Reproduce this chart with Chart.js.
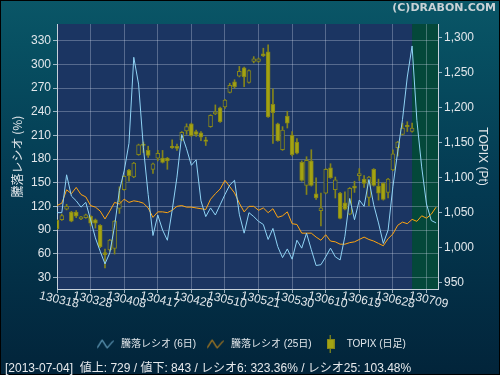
<!DOCTYPE html>
<html>
<head>
<meta charset="utf-8">
<script src="https://cdn.jsdelivr.net/npm/chart.js@4.4.0/dist/chart.umd.min.js"></script>
<style>
  html, body { margin: 0; padding: 0; background: #03263a; }
  #wrap { position: relative; width: 500px; height: 375px; overflow: hidden; }
  #chart { position: absolute; left: 0; top: 0; }
  .copy { position: absolute; right: 4px; top: 1px; font: bold 11px "DejaVu Sans", sans-serif; color: #c9d2d6; }
  .status { position: absolute; left: 5px; top: 358px; font: 12px "Liberation Sans", "Noto Sans CJK JP", sans-serif; color: #e6e9ec; white-space: pre; }
</style>
</head>
<body>
<div id="wrap">
  <canvas id="chart" width="500" height="375"></canvas>
  <div class="copy">(C)DRABON.COM</div>
  <div class="status">[2013-07-04]  値上: 729 / 値下: 843 / レシオ6: 323.36% / レシオ25: 103.48%</div>
</div>
<script>
// trading days, yymmdd
const dates = [
  "130318", "130319", "130321", "130322", "130325", "130326", "130327", "130328", "130329",
  "130401", "130402", "130403", "130404", "130405", "130408", "130409", "130410", "130411", "130412",
  "130415", "130416", "130417", "130418", "130419", "130422", "130423", "130424", "130425", "130426", "130430",
  "130501", "130502", "130507", "130508", "130509", "130510", "130513", "130514", "130515", "130516", "130517",
  "130520", "130521", "130522", "130523", "130524", "130527", "130528", "130529", "130530", "130531",
  "130603", "130604", "130605", "130606", "130607", "130610", "130611", "130612", "130613", "130614",
  "130617", "130618", "130619", "130620", "130621", "130624", "130625", "130626", "130627", "130628",
  "130701", "130702", "130703", "130704", "130705", "130708", "130709", "130710", "130711",
];

const ratio6 = [
  112, 112, 160, 133, 127, 119, 125, 103, 80, 63,
  47, 61, 95, 140, 165, 200, 309, 275, 195, 135,
  83, 109, 90, 77, 115, 157, 211, 193, 172, 179,
  127, 107, 118, 109, 122, 135, 147, 153, 110, 86,
  112, 107, 101, 97, 78, 92, 69, 55, 66, 53,
  77, 67, 86, 65, 45, 46, 56, 67, 56, 52,
  82, 130, 103, 128, 120, 154, 122, 99, 73, 90,
  145, 189, 230, 284, 323.36, 229, 170, 123, 102, 99,
];

const ratio25 = [
  121, 124, 141, 136, 144, 135, 132, 121, 119, 114,
  104, 114, 125, 123, 129, 125, 127, 126, 124, 118,
  106, 113, 113, 112, 115, 120, 121, 119, 119, 118,
  117, 116, 129, 136, 142, 153, 145, 137, 124, 113,
  120, 120, 115, 118, 112, 117, 106, 108, 113, 98,
  97, 86, 86, 86, 81, 77, 84, 76, 75, 72,
  72, 74, 75, 78, 81, 78, 76, 73, 70, 79,
  85, 96, 100, 98, 103.48, 101, 108, 105, 110, 119,
];

// TOPIX daily candles (up to 2013-07-04)
const topixOpen = [
  1039, 1040, 1055, 1051, 1051, 1041, 1043, 1045, 1040, 1032,
  993, 997, 999, 1056, 1083, 1111, 1101, 1133, 1148, 1139,
  1112, 1128, 1128, 1128, 1145, 1145, 1154, 1167, 1177, 1166,
  1164, 1154, 1173, 1191, 1200, 1201, 1222, 1237, 1245, 1257,
  1236, 1266, 1266, 1277, 1280, 1205, 1177, 1140, 1188, 1161,
  1151, 1122, 1089, 1124, 1077, 1053, 1078, 1114, 1083, 1078,
  1064, 1048, 1088, 1103, 1098, 1072, 1112, 1088, 1092, 1079,
  1111, 1143, 1162, 1175, 1166,
];
const topixHigh = [
  1040, 1048, 1062, 1052, 1053, 1045, 1048, 1046, 1041, 1033,
  998, 1012, 1039, 1087, 1103, 1112, 1122, 1148, 1151, 1145,
  1121, 1139, 1139, 1129, 1154, 1148, 1166, 1177, 1178, 1168,
  1166, 1158, 1190, 1204, 1201, 1212, 1235, 1240, 1259, 1258,
  1254, 1273, 1271, 1285, 1290, 1227, 1178, 1173, 1195, 1166,
  1156, 1124, 1130, 1140, 1100, 1078, 1113, 1120, 1101, 1079,
  1080, 1086, 1095, 1113, 1103, 1102, 1113, 1098, 1093, 1099,
  1140, 1152, 1178, 1180, 1178,
];
const topixLow = [
  1026, 1039, 1054, 1037, 1043, 1040, 1042, 1031, 1028, 1000,
  971, 995, 991, 1049, 1082, 1095, 1100, 1132, 1136, 1129,
  1106, 1124, 1121, 1112, 1142, 1139, 1153, 1162, 1159, 1159,
  1153, 1146, 1172, 1190, 1179, 1199, 1221, 1228, 1244, 1230,
  1235, 1264, 1265, 1273, 1186, 1149, 1152, 1139, 1171, 1131,
  1134, 1095, 1076, 1088, 1069, 1031, 1077, 1099, 1071, 1041,
  1054, 1047, 1079, 1096, 1086, 1060, 1088, 1068, 1068, 1071,
  1110, 1131, 1161, 1166, 1165,
];
const topixClose = [
  1027, 1046, 1059, 1038, 1045, 1044, 1047, 1035, 1035, 1001,
  990, 1011, 1038, 1066, 1102, 1103, 1121, 1147, 1146, 1132,
  1120, 1135, 1122, 1124, 1143, 1142, 1165, 1173, 1160, 1162,
  1158, 1152, 1189, 1194, 1180, 1211, 1232, 1230, 1252, 1244,
  1253, 1270, 1270, 1274, 1187, 1193, 1153, 1168, 1178, 1133,
  1135, 1096, 1125, 1089, 1071, 1057, 1112, 1100, 1097, 1042,
  1055, 1085, 1085, 1106, 1092, 1101, 1089, 1078, 1069, 1098,
  1134, 1151, 1171, 1173, 1171,
];

const ratioTicks = [30, 60, 90, 120, 150, 180, 210, 240, 270, 300, 330];
const topixTicks = [950, 1000, 1050, 1100, 1150, 1200, 1250, 1300];
const dateTicks = [0, 7, 14, 21, 28, 35, 42, 49, 56, 63, 70, 77];
const highlightFrom = 74;

const gridColor = "rgba(205,215,235,0.33)";
const textColor = "#e2e7eb";
const candleLine = "#85851a";
const candleFill = "#a3a312";
const plotBg = "#1b3562";

function makeIcon(w, h, draw) {
  const c = document.createElement("canvas");
  c.width = w;
  c.height = h;
  draw(c.getContext("2d"));
  return c;
}

function zigzag(color) {
  return makeIcon(17, 11, (g) => {
    g.strokeStyle = color;
    g.lineWidth = 1;
    g.beginPath();
    g.moveTo(0.5, 9.5);
    g.lineTo(5.5, 1.5);
    g.lineTo(10.5, 9.5);
    g.lineTo(16.5, 2.5);
    g.stroke();
  });
}

const candleIcon = makeIcon(8, 18, (g) => {
  g.fillStyle = candleFill;
  g.fillRect(3, 0, 1, 18);
  g.fillRect(0.5, 4, 7, 10);
  g.strokeStyle = candleLine;
  g.strokeRect(0.5, 4.5, 7, 9);
});

const legendItems = [
  { text: "騰落レシオ (6日)", pointStyle: zigzag("#8fd3f5"), fontColor: textColor, lineWidth: 0, datasetIndex: 0 },
  { text: "騰落レシオ (25日)", pointStyle: zigzag("#ffa510"), fontColor: textColor, lineWidth: 0, datasetIndex: 1 },
  { text: "TOPIX (日足)", pointStyle: candleIcon, fontColor: textColor, lineWidth: 0, datasetIndex: 2 },
];

const backdrop = {
  id: "backdrop",
  beforeDraw(chart) {
    const { ctx, chartArea: a, scales } = chart;
    const g = ctx.createLinearGradient(0, 0, 0, chart.height);
    g.addColorStop(0, "#0a5667");
    g.addColorStop(0.12, "#075062");
    g.addColorStop(0.5, "#043a52");
    g.addColorStop(1, "#02243a");
    ctx.save();
    ctx.fillStyle = g;
    ctx.fillRect(0, 0, chart.width, chart.height);
    ctx.fillStyle = plotBg;
    ctx.fillRect(a.left, a.top, a.right - a.left, a.bottom - a.top);
    const gx = scales.x.getPixelForValue(highlightFrom);
    ctx.fillStyle = "#04483a";
    ctx.fillRect(gx, a.top, a.right - gx, a.bottom - a.top);
    ctx.restore();
  },
  afterDraw(chart) {
    const { ctx, chartArea: a, scales } = chart;
    ctx.save();
    ctx.font = '12px "Liberation Sans", sans-serif';
    ctx.fillStyle = textColor;
    ctx.textAlign = "center";
    ctx.textBaseline = "middle";
    scales.x.ticks.forEach((t) => {
      const px = scales.x.getPixelForValue(t.value);
      ctx.save();
      ctx.translate(px + 2, a.bottom + 11);
      ctx.rotate((13 * Math.PI) / 180);
      ctx.fillText(dates[t.value], 0, 0);
      ctx.restore();
    });
    ctx.strokeStyle = "#000";
    ctx.lineWidth = 1;
    ctx.strokeRect(0.5, 0.5, chart.width - 1, chart.height - 1);
    ctx.restore();
  },
};

new Chart(document.getElementById("chart"), {
  type: "line",
  data: {
    datasets: [
      {
        label: "騰落レシオ (6日)",
        data: ratio6.map((v, i) => ({ x: i, y: v })),
        borderColor: "#8fd3f5",
        borderWidth: 1,
        pointRadius: 0,
        tension: 0,
        yAxisID: "y",
        order: 0,
      },
      {
        label: "騰落レシオ (25日)",
        data: ratio25.map((v, i) => ({ x: i, y: v })),
        borderColor: "#ffa510",
        borderWidth: 1,
        pointRadius: 0,
        tension: 0,
        yAxisID: "y",
        order: 1,
      },
      {
        type: "bar",
        label: "TOPIX (日足)",
        data: topixOpen.map((o, i) => ({ x: i, y: [o, topixClose[i]] })),
        yAxisID: "yR",
        barThickness: 4,
        grouped: false,
        borderSkipped: false,
        borderWidth: 1,
        borderColor: candleLine,
        backgroundColor: (c) =>
          topixClose[c.dataIndex] > topixOpen[c.dataIndex] ? plotBg : candleFill,
        order: 2,
      },
      {
        type: "bar",
        label: "TOPIX wick",
        data: topixLow.map((l, i) => ({ x: i, y: [l, topixHigh[i]] })),
        yAxisID: "yR",
        barThickness: 1,
        grouped: false,
        borderWidth: 0,
        backgroundColor: candleLine,
        order: 3,
      },
    ],
  },
  options: {
    responsive: false,
    animation: false,
    devicePixelRatio: 1,
    layout: { padding: { top: 24, bottom: 16, left: 0, right: 0 } },
    plugins: {
      tooltip: { enabled: false },
      legend: {
        position: "bottom",
        labels: {
          usePointStyle: true,
          pointStyleWidth: 22,
          padding: 8,
          color: textColor,
          font: { size: 10, family: '"Liberation Sans", "Noto Sans CJK JP", sans-serif' },
          generateLabels: () => legendItems,
        },
      },
    },
    scales: {
      x: {
        type: "linear",
        min: 0,
        max: 79.4,
        offset: false,
        afterBuildTicks: (s) => {
          s.ticks = dateTicks.map((v) => ({ value: v }));
        },
        afterFit: (s) => {
          s.height = 375 - 16 - s.chart.legend.height - 289;
        },
        ticks: { display: false },
        grid: { color: gridColor, tickColor: "rgba(220,228,240,0.7)", tickLength: 4, offset: false },
        border: { color: "#c6d0da" },
      },
      y: {
        position: "left",
        min: 15.2,
        max: 351.2,
        afterBuildTicks: (s) => {
          s.ticks = ratioTicks.map((v) => ({ value: v }));
        },
        afterFit: (s) => {
          s.width = 57;
        },
        ticks: {
          color: textColor,
          padding: 2,
          font: { size: 12, family: '"Liberation Sans", sans-serif' },
        },
        grid: { color: gridColor, tickColor: "rgba(220,228,240,0.7)", tickLength: 4 },
        border: { color: "#c6d0da" },
        title: {
          display: true,
          text: "騰落レシオ (%)",
          color: textColor,
          font: { size: 12, family: '"Noto Sans CJK JP", sans-serif' },
          padding: { top: 10, bottom: 0 },
        },
      },
      yR: {
        position: "right",
        min: 941,
        max: 1319.6,
        afterBuildTicks: (s) => {
          s.ticks = topixTicks.map((v) => ({ value: v }));
        },
        afterFit: (s) => {
          s.width = 62;
        },
        ticks: {
          color: textColor,
          padding: 2,
          font: { size: 12, family: '"Liberation Sans", sans-serif' },
          callback: (v) => v.toLocaleString("en-US"),
        },
        grid: { drawOnChartArea: false, tickColor: "rgba(220,228,240,0.7)", tickLength: 4 },
        border: { color: "#c6d0da" },
        title: {
          display: true,
          text: "TOPIX (Pt)",
          color: textColor,
          font: { size: 12, family: '"Liberation Sans", sans-serif' },
          padding: { top: 10, bottom: 0 },
        },
      },
    },
  },
  plugins: [backdrop],
});
</script>
</body>
</html>
